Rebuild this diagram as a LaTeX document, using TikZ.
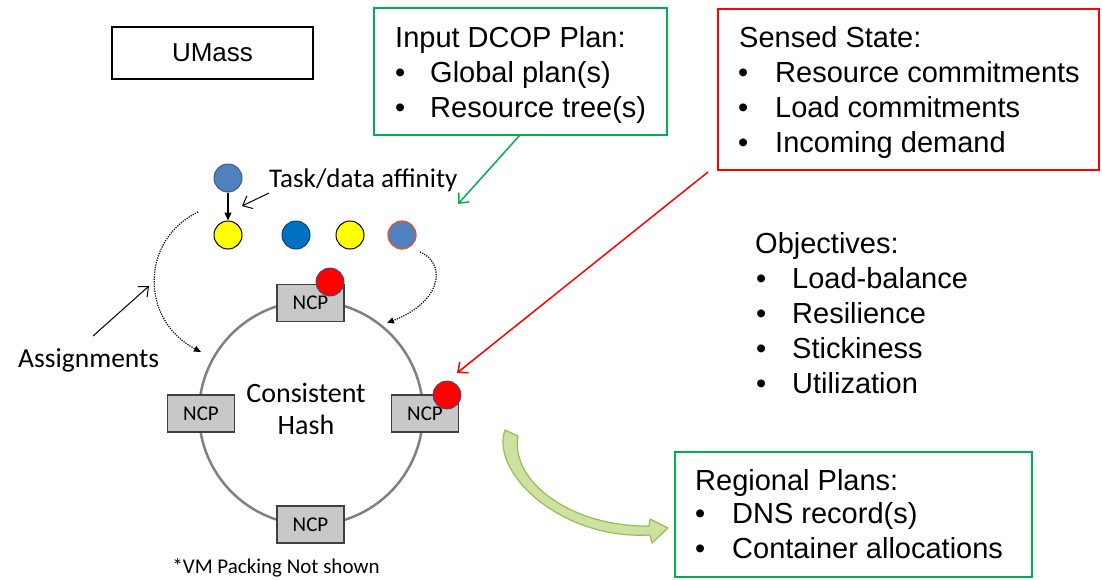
\documentclass[tikz,border=0pt]{standalone}
\usepackage{fontspec}
\setmainfont{Liberation Sans}
\newfontfamily\calfont{Carlito}
\usetikzlibrary{arrows.meta}
\definecolor{pgreen}{RGB}{0,176,80}
\definecolor{pred}{RGB}{255,0,0}
\definecolor{ncpfill}{RGB}{200,200,200}
\definecolor{ncpdraw}{RGB}{64,64,64}
\definecolor{ringgray}{RGB}{128,128,128}
\definecolor{steel}{RGB}{79,129,189}
\definecolor{steeldraw}{RGB}{56,93,138}
\definecolor{dblue}{RGB}{0,112,192}
\definecolor{dbluedraw}{RGB}{0,70,130}
\definecolor{pyellow}{RGB}{255,255,0}
\definecolor{orangered}{RGB}{240,80,40}
\definecolor{dotblue}{RGB}{47,82,143}
\definecolor{arrfill}{RGB}{205,225,160}
\definecolor{arrdraw}{RGB}{155,187,89}
\begin{document}
\begin{tikzpicture}[x=1pt,y=-1pt,
  big/.style={font=\fontsize{29}{35}\selectfont, anchor=base west, inner sep=0pt},
  calib/.style={font=\calfont\fontsize{#1}{#1}\selectfont, inner sep=0pt},
  ncp/.style={draw=ncpdraw, fill=ncpfill, line width=1.5pt, minimum width=67pt, minimum height=37pt, inner sep=0pt, font=\calfont\fontsize{21}{24}\selectfont},
  ball/.style={circle, minimum size=28pt, inner sep=0pt, line width=1pt},
  redball/.style={ball, fill=pred, draw=dotblue, line width=0.8pt},
  frame/.style={draw=#1, line width=1.5pt, inner sep=0pt},
  barb/.style={-{Straight Barb[length=8pt,width=14pt]}, line width=1pt},
  dots/.style={dash pattern=on 1.2pt off 1.2pt, line width=1.2pt, -{Triangle[length=7pt,width=6pt]}}
]
\useasboundingbox (0,0) rectangle (1102,579);

% UMass box
\node (umass) [draw=black, line width=1.2pt, minimum width=201pt, minimum height=52pt, inner sep=0pt,
  font=\fontsize{26}{30}\selectfont] at (212.5,53) {UMass};

% Input DCOP Plan box
\node (inbox) [frame=pgreen, minimum width=293pt, minimum height=127pt] at (520.5,71.5) {};
\node (in0) [big] at (395,47) {Input DCOP Plan:};
\node (in1b) [big] at (395,82) {•};
\node (in1) [big] at (430,82) {Global plan(s)};
\node (in2b) [big] at (395,117) {•};
\node (in2) [big] at (430,117) {Resource tree(s)};

% Sensed State box
\node (ssbox) [frame=pred, minimum width=381pt, minimum height=161pt] at (908.5,89.5) {};
\node (ss0) [big] at (739,47) {Sensed State:};
\node (ss1b) [big] at (738,82) {•};
\node (ss1) [big] at (775,82) {Resource commitments};
\node (ss2b) [big] at (738,117) {•};
\node (ss2) [big] at (775,117) {Load commitments};
\node (ss3b) [big] at (738,152) {•};
\node (ss3) [big] at (775,152) {Incoming demand};

% Objectives
\node (ob0) [big] at (755,253) {Objectives:};
\node (ob1b) [big] at (756,288) {•};
\node (ob1) [big] at (792,288) {Load-balance};
\node (ob2b) [big] at (756,323) {•};
\node (ob2) [big] at (792,323) {Resilience};
\node (ob3b) [big] at (756,358) {•};
\node (ob3) [big] at (792,358) {Stickiness};
\node (ob4b) [big] at (756,393) {•};
\node (ob4) [big] at (792,393) {Utilization};

% Regional Plans box
\node (rpbox) [frame=pgreen, minimum width=357pt, minimum height=125pt] at (853.5,514.5) {};
\node (rp0) [big] at (695,490) {Regional Plans:};
\node (rp1b) [big] at (695,523) {•};
\node (rp1) [big] at (732,523) {DNS record(s)};
\node (rp2b) [big] at (695,558) {•};
\node (rp2) [big] at (732,558) {Container allocations};

% Consistent hash ring
\node (ring) [circle, draw=ringgray, line width=2.5pt, minimum size=224pt, inner sep=0pt] at (311,413) {};
\node (hash1) [calib=28, anchor=base] at (306,402) {Consistent};
\node (hash2) [calib=28, anchor=base] at (306,434) {Hash};
\node (ncpT) [ncp] at (310.5,303) {NCP};
\node (ncpL) [ncp] at (201,413.5) {NCP};
\node (ncpR) [ncp] at (425,413.5) {NCP};
\node (ncpB) [ncp] at (310.5,524.5) {NCP};
\node (rdT) [redball] at (330,282) {};
\node (rdR) [redball] at (447,395) {};

% task circles
\node (t0) [ball, fill=steel, draw=steeldraw] at (228,178) {};
\node (y1) [ball, fill=pyellow, draw=black] at (228,235) {};
\node (b2) [ball, fill=dblue, draw=dbluedraw] at (296,235) {};
\node (y3) [ball, fill=pyellow, draw=black] at (350,235) {};
\node (s4) [ball, fill=steel, draw=orangered, line width=1.2pt] at (402,235) {};
\draw[-{Triangle[length=8pt,width=7pt]}, line width=1.2pt] (t0) -- (y1);

% labels
\node (aff) [calib=27, anchor=base west] at (269,187) {Task/data affinity};
\coordinate (affs) at (269,193);
\coordinate (affe) at (242,206);
\draw[barb] (affs) -- (affe);

\node (assign) [calib=27.5, anchor=base west] at (18,367) {Assignments};
\coordinate (asss) at (93,336);
\coordinate (asse) at (149,286);
\draw[barb] (asss) -- (asse);

\node (vm) [calib=21, anchor=base] at (276,573) {*VM Packing Not shown};

% dotted assignment curves
\coordinate (dl0) at (198,212);
\coordinate (dl1) at (201,352);
\draw[dots] (dl0) .. controls (140,240) and (140,320) .. (dl1);
\coordinate (dr0) at (420,252);
\coordinate (dr1) at (387,323);
\draw[dots] (dr0) .. controls (445,262) and (445,300) .. (dr1);

% green input arrow
\coordinate (gs) at (520,135);
\coordinate (ge) at (458,204);
\draw[barb, draw=pgreen, line width=1.5pt] (gs) -- (ge);

% red sensed-state arrow
\coordinate (rs) at (708,172);
\coordinate (re) at (457,373);
\draw[barb, draw=pred, line width=1.5pt] (rs) -- (re);

% green curved block arrow
\draw[draw=arrdraw, fill=arrfill, line width=1.2pt, line join=round]
  (505,430) .. controls (490,472) and (560,540) .. (650,535)
  -- (652,543) -- (668,528) -- (650,519) -- (649,526)
  .. controls (572,527) and (510,482) .. (518,436) -- cycle;
\end{tikzpicture}
\end{document}
